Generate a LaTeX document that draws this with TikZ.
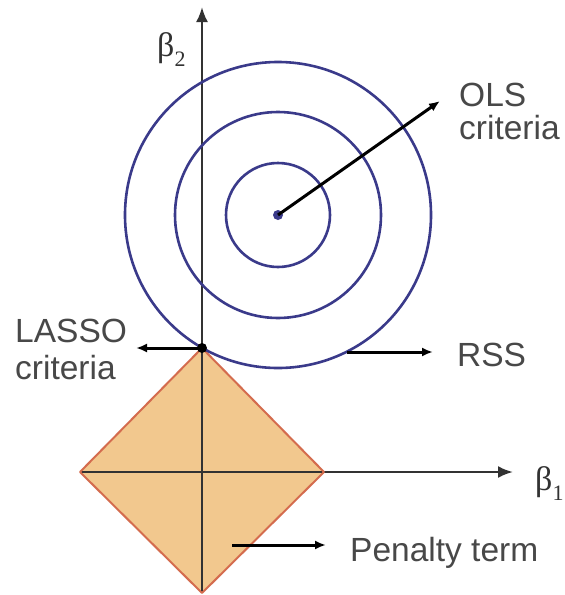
\documentclass[tikz,border=0pt]{standalone}
\usepackage{fontspec}
\setmainfont{Liberation Sans}
\newfontfamily\serifgreek{Liberation Serif}
\usetikzlibrary{arrows.meta}
\definecolor{circ}{RGB}{58,58,138}
\definecolor{axisc}{RGB}{50,50,50}
\definecolor{dfill}{RGB}{242,200,142}
\definecolor{dedge}{RGB}{212,108,78}
\definecolor{txt}{RGB}{72,72,72}
\begin{document}
\begin{tikzpicture}[x=1pt,y=-1pt,
  axis/.style={draw=axisc,line width=2.4pt,-{Latex[length=15pt,width=12pt]}},
  ring/.style={draw=circ,line width=2.6pt},
  pointer/.style={draw=black,line width=3pt,-{Latex[length=11pt,width=9pt]}},
  lbl/.style={text=txt,font=\fontsize{33.5}{33}\selectfont,inner sep=0pt,align=left},
  greek/.style={text=txt!70!black,font=\serifgreek\fontsize{34}{34}\selectfont,inner sep=0pt}]
\useasboundingbox (0,0) rectangle (565,595);
\fill[white] (0,0) rectangle (565,595);
% key points
\coordinate (O) at (202,472);
\coordinate (T) at (202,348);
\coordinate (B) at (202,593);
\coordinate (L) at (80,472);
\coordinate (R) at (324,472);
\coordinate (C) at (278,215);
\coordinate (ytip) at (202,7);
\coordinate (xtip) at (513,472);
% diamond (penalty region)
\fill[dfill] (T) -- (R) -- (B) -- (L) -- cycle;
% axes
\draw[axis] (B) -- (ytip);
\draw[axis] (L) -- (xtip);
\draw[dedge,line width=2pt,line join=round] (T) -- (R) -- (B) -- (L) -- cycle;
% RSS contours
\draw[ring] (C) circle[radius=52pt];
\draw[ring] (C) circle[radius=103pt];
\draw[ring] (C) circle[radius=153pt];
\fill[circ] (C) circle[radius=5pt];
\fill[black] (T) circle[radius=5pt];
% axis labels
\node[greek,anchor=north west] (b2) at (157,32) {β\raisebox{-10pt}{\fontsize{22}{22}\selectfont 2}};
\node[greek,anchor=north west] (b1) at (535,466) {β\raisebox{-10pt}{\fontsize{22}{22}\selectfont 1}};
% labels
\node[lbl,anchor=north west] (ols) at (459,83) {OLS\\criteria};
\node[lbl,anchor=north west,font=\fontsize{33.5}{37}\selectfont] (lasso) at (15,319) {LASSO\\criteria};
\node[lbl,anchor=base west] (rss) at (457,366) {RSS};
\node[lbl,anchor=base west] (pen) at (350,561) {Penalty term};
% pointers
\coordinate (olstip) at (440,101);
\coordinate (lassotip) at (136,348);
\coordinate (rssfrom) at (347,352);
\coordinate (rsstip) at (433,352);
\coordinate (penfrom) at (232,545);
\coordinate (pentip) at (326,545);
\draw[pointer] (C) -- (olstip);
\draw[pointer] (T) -- (lassotip);
\draw[pointer] (rssfrom) -- (rsstip);
\draw[pointer] (penfrom) -- (pentip);
\end{tikzpicture}
\end{document}
